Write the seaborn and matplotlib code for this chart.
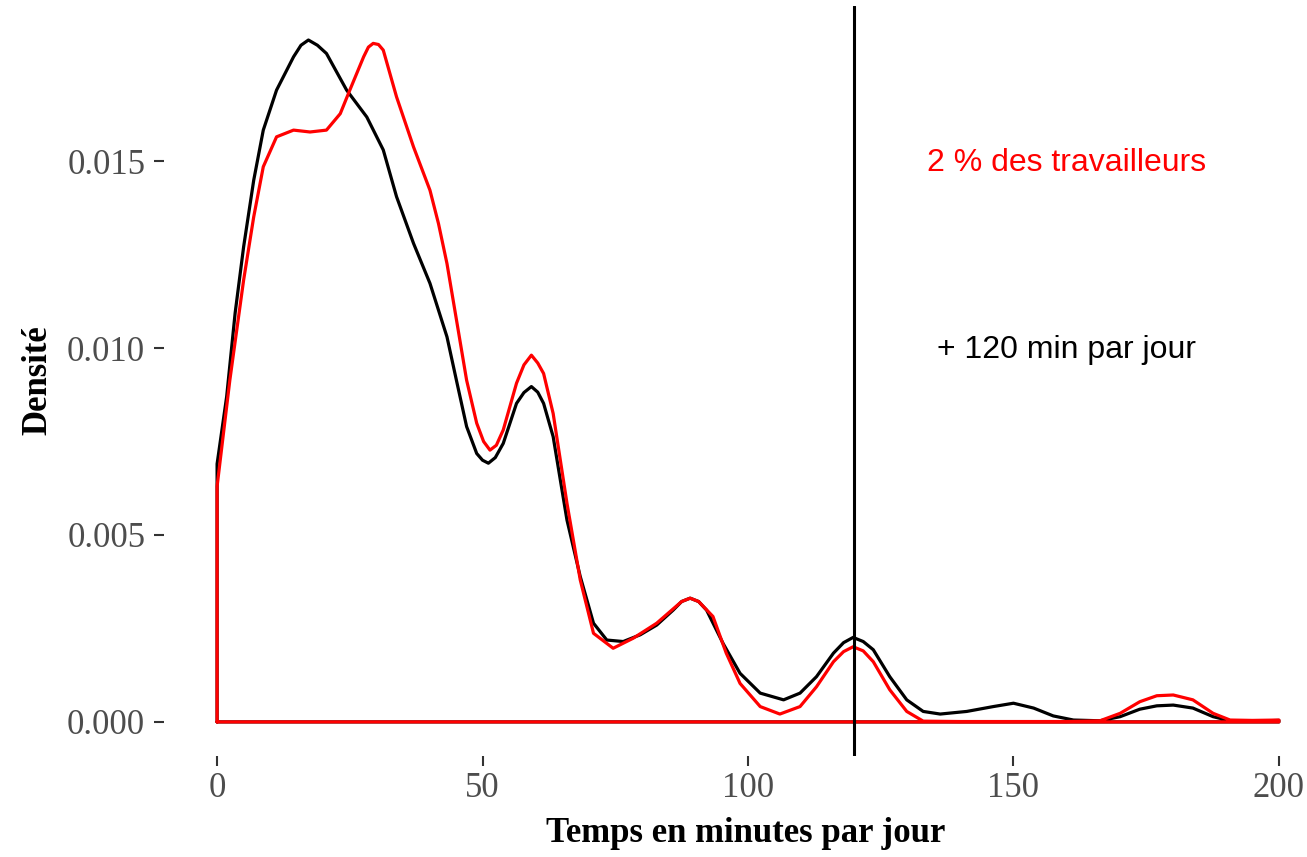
import matplotlib
matplotlib.use("Agg")
import matplotlib.pyplot as plt
import pandas as pd
import seaborn as sns

# density of daily time (minutes)
x_black = [0, 1.8, 3.4, 5.0, 6.9, 8.7, 11.2, 14.4, 15.8, 17.2, 18.9, 20.6, 24.4, 28.2,
           31.3, 33.8, 37.0, 40.1, 43.3, 45.2, 47.0, 48.9, 50.0, 51.1, 52.4, 53.9,
           56.4, 57.8, 59.2, 60.4, 61.5, 63.3, 65.9, 68.4, 70.9, 73.4, 76.5, 79.7,
           82.8, 85.9, 87.5, 89.1, 90.7, 92.2, 95.3, 98.5, 102.3, 106.7, 109.8,
           112.9, 116.1, 118.0, 119.8, 121.7, 123.6, 126.7, 129.9, 133.0, 136.2,
           141.2, 146.2, 150.0, 153.8, 157.5, 161.3, 166.3, 170.1, 173.8, 177.0,
           180.1, 183.8, 187.6, 190.8, 195.0, 200]
dens_black = [0.0069, 0.0087, 0.01094, 0.01271, 0.01449, 0.01583, 0.0169, 0.01779,
              0.0181, 0.01824, 0.0181, 0.01788, 0.0169, 0.01618, 0.0153, 0.01405,
              0.0128, 0.01173, 0.0103, 0.00906, 0.0079, 0.00718, 0.007, 0.00692,
              0.00707, 0.00745, 0.00852, 0.00881, 0.00897, 0.00882, 0.00852, 0.00763,
              0.0054, 0.00389, 0.00264, 0.00219, 0.00215, 0.00233, 0.00259, 0.00299,
              0.00322, 0.00331, 0.00322, 0.00299, 0.0021, 0.0013, 0.00077, 0.00059,
              0.00077, 0.00121, 0.00184, 0.00212, 0.00226, 0.00215, 0.00193, 0.00121,
              0.00059, 0.00028, 0.00021, 0.00028, 0.00041, 0.0005, 0.00037, 0.00016,
              0.00005, 0.00003, 0.00014, 0.00034, 0.00043, 0.00045, 0.00037, 0.00014,
              0.00003, 0.00002, 0.00004]

x_red = [0, 2.4, 5.0, 6.9, 8.7, 11.2, 14.4, 17.5, 20.6, 23.2, 25.0, 27.6, 28.5, 29.4,
         30.4, 31.3, 33.8, 37.0, 40.1, 41.7, 43.3, 45.2, 47.0, 48.9, 50.2, 51.4, 52.6,
         53.9, 56.4, 57.8, 59.2, 60.4, 61.5, 63.3, 65.9, 68.4, 70.9, 74.6, 78.4,
         82.8, 87.5, 89.1, 90.7, 93.4, 95.9, 98.5, 102.3, 106.0, 109.8, 112.9, 116.1,
         118.0, 119.8, 121.7, 123.6, 126.7, 129.9, 133.0, 140.0, 150.0, 160.0, 166.3,
         170.1, 173.8, 177.0, 180.1, 183.8, 187.6, 190.8, 195.0, 200]
dens_red = [0.0063, 0.00914, 0.01182, 0.01351, 0.01485, 0.01565, 0.01583, 0.01578,
            0.01583, 0.01627, 0.0169, 0.01779, 0.01805, 0.01815, 0.01812, 0.01797,
            0.01672, 0.01538, 0.01422, 0.01333, 0.01226, 0.01066, 0.00914, 0.00799,
            0.0075, 0.00727, 0.0074, 0.00781, 0.00906, 0.00955, 0.00981, 0.0096,
            0.00932, 0.00825, 0.00585, 0.0038, 0.00237, 0.00197, 0.00224, 0.00264,
            0.00322, 0.00331, 0.00322, 0.00282, 0.00184, 0.00103, 0.00041, 0.00021,
            0.00041, 0.00094, 0.00161, 0.00188, 0.00201, 0.0019, 0.00161, 0.00086,
            0.00028, 0.00002, 0.00001, 0.00001, 0.00001, 0.00003, 0.00023, 0.00054,
            0.0007, 0.00072, 0.00059, 0.00023, 0.00005, 0.00004, 0.00005]

vline_x = 120
x_ticks = [0, 50, 100, 150, 200]
y_ticks = [0.000, 0.005, 0.010, 0.015]
label_red = "2 % des travailleurs"
label_black = "+ 120 min par jour"


def outline(xs, ys):
    # closed density outline, like geom_density (baseline included)
    return pd.DataFrame({"x": [xs[0]] + xs + [xs[-1], xs[0]],
                         "y": [0] + ys + [0, 0]})


sns.set_theme(style="white")
plt.rcParams["font.family"] = ["Liberation Serif", "DejaVu Serif"]

fig = plt.figure(figsize=(13.07, 8.57), dpi=100)
ax = fig.add_axes([164 / 1307, 101 / 857, 1168 / 1307, 750 / 857])

line_kw = dict(sort=False, estimator=None, linewidth=2.3,
               solid_joinstyle="round", solid_capstyle="round")
sns.lineplot(data=outline(x_black, dens_black), x="x", y="y", color="black",
             ax=ax, **line_kw)
sns.lineplot(data=outline(x_red, dens_red), x="x", y="y", color="#FF0000",
             ax=ax, **line_kw)
ax.axvline(vline_x, color="black", linewidth=2.2)

ax.text(160, 0.01495, label_red, color="#FF0000", ha="center", va="center",
        fontsize=23, family=["Liberation Sans", "DejaVu Sans"])
ax.text(160, 0.00995, label_black, color="black", ha="center", va="center",
        fontsize=23, family=["Liberation Sans", "DejaVu Sans"])

ax.set_xlim(-10, 210)
ax.set_ylim(-0.000912, 0.01915)
ax.set_xticks(x_ticks)
ax.set_yticks(y_ticks)
ax.set_xticklabels([str(v) for v in x_ticks])
ax.set_yticklabels([f"{v:.3f}" for v in y_ticks])
ax.tick_params(axis="both", which="major", labelsize=25, labelcolor="#4D4D4D",
               color="#333333", length=7.5, width=1.5, direction="out",
               bottom=True, left=True)
ax.tick_params(axis="y", pad=6)
ax.tick_params(axis="x", pad=4)
for s in ax.spines.values():
    s.set_visible(False)

ax.set_xlabel("Temps en minutes par jour", fontsize=25, fontweight="bold", color="black")
ax.set_ylabel("Densité", fontsize=25, fontweight="bold", color="black")
ax.xaxis.label.set_va("center")
ax.yaxis.label.set_va("center")
ax.xaxis.set_label_coords((746 - 164) / 1168, -(834 - 756) / 750)
ax.yaxis.set_label_coords(-(164 - 38) / 1168, (756 - 380) / 750)
if ax.get_legend():
    ax.get_legend().remove()

fig.savefig("out.png", dpi=100)
